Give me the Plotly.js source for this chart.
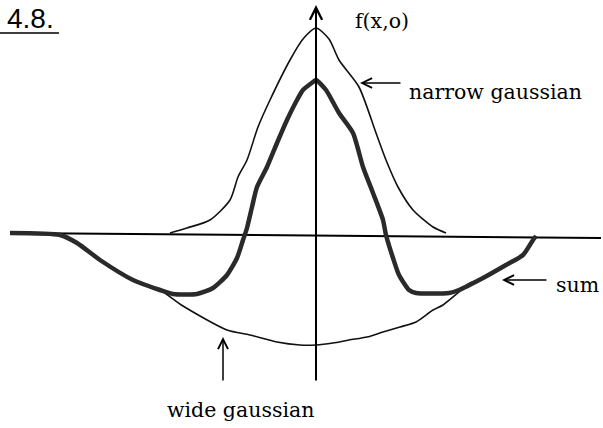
<!DOCTYPE html>
<html>
<head>
<meta charset="utf-8">
<script src="https://cdn.plot.ly/plotly-3.0.1.min.js"></script>
<style>
  html, body { margin: 0; padding: 0; background: #fff; }
  #chart { width: 603px; height: 428px; }
</style>
</head>
<body>
<div id="chart"></div>
<script>
// Narrow positive gaussian (thin curve)
const narrowX = [-14.6, -12.9, -10.6, -8.6, -7.8, -6.9, -5.8, -4.6, -2.6, -1.3, 0, 1.3, 2.3, 4.3, 6.0, 7.0, 8.2, 9.7, 11.7, 13.0];
const narrowY = [0.2, 0.7, 1.5, 3.5, 5.8, 7.5, 10.8, 13.5, 17.5, 19.6, 20.7, 19.6, 17.5, 14.8, 10.2, 7.5, 4.8, 2.5, 0.8, 0.2];

// Wide negative gaussian (thin curve)
const wideX = [-30.6, -25.6, -23.9, -21.6, -18.3, -15.6, -13.3, -8.9, -6.6, -3.9, -1.6, 0, 1.7, 3.3, 5.1, 6.7, 8.4, 10.0, 11.7, 12.7, 14.3, 15.4, 16.7, 19.0, 20.7, 21.7, 22.0];
const wideY = [0.2, 0, -0.8, -2.5, -4.5, -5.5, -7.1, -9.5, -10.0, -10.7, -11.0, -11.0, -10.8, -10.5, -10.2, -9.7, -9.2, -8.7, -7.5, -7.0, -5.7, -4.8, -4.3, -3.0, -2.0, -0.5, -0.1];

// Sum of the two (thick curve)
const sumX = [-30.6, -25.6, -23.9, -21.6, -18.3, -15.6, -14.3, -11.9, -10.3, -8.9, -7.9, -7.3, -6.9, -6.4, -5.9, -4.9, -3.9, -2.9, -1.9, -1.3, -0.3, 0, 1.0, 2.3, 3.7, 4.7, 5.7, 6.7, 7.0, 7.7, 8.3, 9.3, 10.0, 13.3, 14.3, 16.7, 19.0, 20.7, 21.7, 22.0];
const sumY = [0.2, 0, -0.8, -2.5, -4.5, -5.5, -5.9, -5.9, -5.3, -4.0, -2.3, -0.5, 0.7, 2.8, 4.8, 6.8, 9.2, 11.5, 13.5, 14.5, 15.3, 15.5, 14.5, 12.2, 10.2, 6.8, 4.2, 1.5, 0, -2.3, -4.0, -5.5, -5.8, -5.8, -5.5, -4.3, -3.0, -2.0, -0.5, -0.1];

// Labels
const figureLabel = '4.8.';
const axisLabel = 'f(x,o)';
const narrowLabel = 'narrow gaussian';
const sumLabel = 'sum';
const wideLabel = 'wide gaussian';

const serif = { family: 'DejaVu Serif', size: 20.5, color: '#000' };

const traces = [
  { x: wideX, y: wideY, mode: 'lines', line: { color: '#111', width: 1.6, shape: 'spline', smoothing: 0.7 }, hoverinfo: 'skip' },
  { x: narrowX, y: narrowY, mode: 'lines', line: { color: '#111', width: 1.6, shape: 'spline', smoothing: 0.7 }, hoverinfo: 'skip' },
  { x: sumX, y: sumY, mode: 'lines', line: { color: '#2a2a2a', width: 4.5, shape: 'spline', smoothing: 0.6 }, hoverinfo: 'skip' }
];

const layout = {
  width: 603,
  height: 428,
  margin: { l: 0, r: 0, t: 0, b: 0 },
  paper_bgcolor: '#fff',
  plot_bgcolor: '#fff',
  showlegend: false,
  xaxis: { range: [-31.6, 28.7], visible: false, fixedrange: true },
  yaxis: { range: [-19.3, 23.5], visible: false, fixedrange: true },
  shapes: [
    // horizontal axis
    { type: 'line', xref: 'x', yref: 'y', x0: -30.6, y0: 0.2, x1: 28.5, y1: -0.3, line: { color: '#000', width: 2 }, layer: 'below' },
    // underline of the figure number
    { type: 'line', xref: 'x', yref: 'y', x0: -31.6, y0: 20.2, x1: -25.7, y1: 20.2, line: { color: '#000', width: 1.5 } }
  ],
  annotations: [
    // vertical axis with arrow
    { xref: 'x', yref: 'y', axref: 'x', ayref: 'y', x: 0, y: 23.0, ax: 0, ay: -14.7,
      showarrow: true, arrowhead: 5, arrowsize: 1.2, arrowwidth: 2, arrowcolor: '#000', text: '' },
    { xref: 'x', yref: 'y', x: -31.1, y: 21.7, xanchor: 'left', yanchor: 'middle', showarrow: false,
      text: figureLabel, font: { family: 'Liberation Sans', size: 28, color: '#000' } },
    { xref: 'x', yref: 'y', x: 3.7, y: 21.4, xanchor: 'left', yanchor: 'middle', showarrow: false,
      text: axisLabel, font: serif },
    // narrow gaussian label and arrow
    { xref: 'x', yref: 'y', axref: 'x', ayref: 'y', x: 4.4, y: 15.2, ax: 8.6, ay: 15.2,
      showarrow: true, arrowhead: 5, arrowsize: 1.3, arrowwidth: 1.5, arrowcolor: '#000', text: '' },
    { xref: 'x', yref: 'y', x: 9.1, y: 14.3, xanchor: 'left', yanchor: 'middle', showarrow: false,
      text: narrowLabel, font: serif },
    // sum label and arrow
    { xref: 'x', yref: 'y', axref: 'x', ayref: 'y', x: 18.6, y: -4.5, ax: 23.2, ay: -4.5,
      showarrow: true, arrowhead: 5, arrowsize: 1.3, arrowwidth: 1.5, arrowcolor: '#000', text: '' },
    { xref: 'x', yref: 'y', x: 23.8, y: -5.0, xanchor: 'left', yanchor: 'middle', showarrow: false,
      text: sumLabel, font: serif },
    // wide gaussian label and arrow
    { xref: 'x', yref: 'y', axref: 'x', ayref: 'y', x: -9.3, y: -10.2, ax: -9.3, ay: -14.7,
      showarrow: true, arrowhead: 5, arrowsize: 1.3, arrowwidth: 1.5, arrowcolor: '#000', text: '' },
    { xref: 'x', yref: 'y', x: -15.1, y: -17.5, xanchor: 'left', yanchor: 'middle', showarrow: false,
      text: wideLabel, font: serif }
  ]
};

Plotly.newPlot('chart', traces, layout, { staticPlot: true, displayModeBar: false });
</script>
</body>
</html>
